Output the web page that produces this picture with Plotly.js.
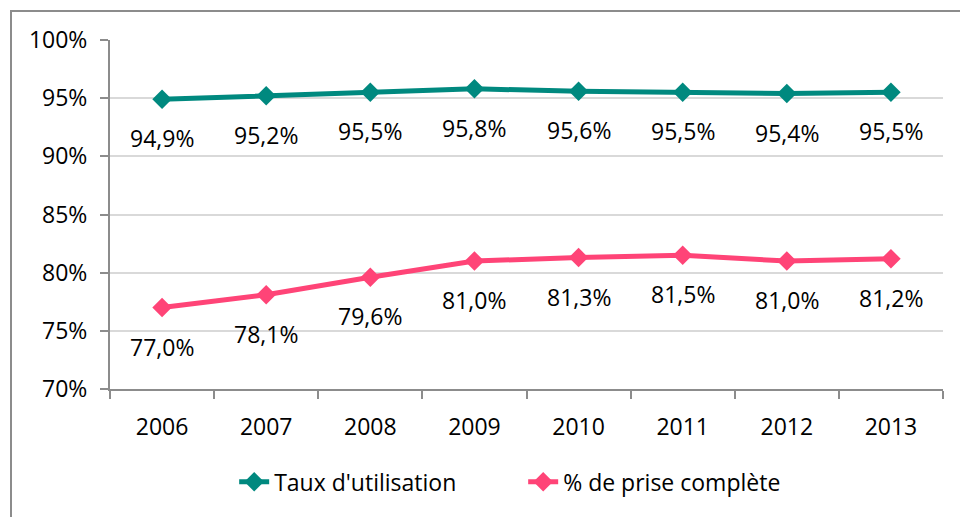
<!DOCTYPE html>
<html>
<head>
<meta charset="utf-8">
<script src="https://cdn.plot.ly/plotly-3.0.1.min.js"></script>
<style>
html,body{margin:0;padding:0;background:#fff;overflow:hidden;}
#frame{position:absolute;left:10px;top:10px;width:1000px;height:600px;border-left:2px solid #8c8c8c;border-top:2px solid #8c8c8c;}
#chart{position:absolute;left:0;top:0;width:960px;height:517px;}
</style>
</head>
<body>
<div id="frame"></div>
<div id="chart"></div>
<script>
var years = ['2006','2007','2008','2009','2010','2011','2012','2013'];
var tauxUtilisation = [94.9, 95.2, 95.5, 95.8, 95.6, 95.5, 95.4, 95.5];
var priseComplete = [77.0, 78.1, 79.6, 81.0, 81.3, 81.5, 81.0, 81.2];
var seriesNames = ["Taux d'utilisation", "% de prise complète"];
var colors = ['#00897f', '#ff4477'];

var FONT = 'Open Sans';
var FS = 23;
function fmt(v){ return v.toFixed(1).replace('.', ',') + '%'; }

var traces = [tauxUtilisation, priseComplete].map(function(vals, i){
  return {
    x: years, y: vals, name: seriesNames[i], type: 'scatter', mode: 'lines+markers',
    line: {color: colors[i], width: 5},
    marker: {symbol: 'diamond', size: 15, color: colors[i]},
    hoverinfo: 'skip'
  };
});

var annotations = [];
[tauxUtilisation, priseComplete].forEach(function(vals){
  vals.forEach(function(v, j){
    annotations.push({x: j, y: v, xref: 'x', yref: 'y', text: fmt(v), showarrow: false,
      yshift: -39, font: {family: FONT, size: FS, color: '#000'}});
  });
});

var layout = {
  width: 960, height: 517,
  margin: {l: 110, r: 17, t: 40, b: 128},
  paper_bgcolor: 'rgba(0,0,0,0)', plot_bgcolor: 'rgba(0,0,0,0)',
  font: {family: FONT, size: FS, color: '#000'},
  showlegend: true,
  legend: {orientation: 'h', x: 0.496, xanchor: 'center', y: -0.266, yanchor: 'middle',
    font: {family: FONT, size: FS, color: '#000'}, entrywidth: 244, entrywidthmode: 'pixels', traceorder: 'normal'},
  xaxis: {type: 'category', categoryorder: 'array', categoryarray: years, range: [-0.5, 7.5],
    showgrid: false, showline: true, linecolor: '#8c8c8c', linewidth: 2,
    ticks: 'outside', tickson: 'boundaries', ticklen: 8, tickcolor: '#8c8c8c', tickwidth: 2,
    ticklabelstandoff: 16,
    tickangle: 0, tickfont: {family: FONT, size: FS}, zeroline: false, fixedrange: true},
  yaxis: {range: [70, 100], dtick: 5, tick0: 70, ticksuffix: '%', showgrid: true, gridcolor: '#d9d9d9', gridwidth: 2,
    showline: true, linecolor: '#8c8c8c', linewidth: 2, ticks: 'outside', ticklen: 8, tickcolor: '#8c8c8c', tickwidth: 2,
    ticklabelstandoff: 8,
    tickfont: {family: FONT, size: FS}, zeroline: false, fixedrange: true},
  annotations: annotations
};

Plotly.newPlot('chart', traces, layout, {displayModeBar: false, staticPlot: true});
</script>
</body>
</html>
